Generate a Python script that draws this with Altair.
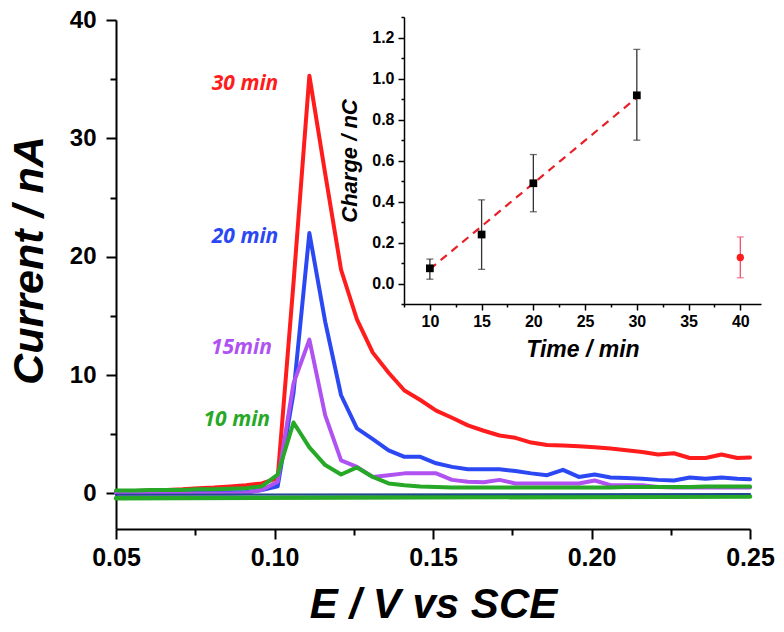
import altair as alt
import pandas as pd

# ---------------- main chart data (E / V vs SCE, current / nA) ----------------
E = [0.050, 0.056, 0.061, 0.066, 0.071, 0.076, 0.081, 0.086, 0.091, 0.096,
     0.101, 0.106, 0.111, 0.116, 0.121, 0.126, 0.131, 0.136, 0.141, 0.146,
     0.151, 0.156, 0.161, 0.166, 0.171, 0.176, 0.181, 0.186, 0.191, 0.196,
     0.201, 0.206, 0.211, 0.216, 0.221, 0.226, 0.231, 0.236, 0.241, 0.246,
     0.250]

I_30 = [0.15, 0.20, 0.25, 0.30, 0.35, 0.45, 0.50, 0.60, 0.70, 0.85,
        1.30, 17.8, 35.3, 27.0, 18.9, 14.7, 11.9, 10.2, 8.7, 7.9,
        7.0, 6.4, 5.75, 5.3, 4.9, 4.7, 4.3, 4.1, 4.05, 4.0,
        3.9, 3.8, 3.65, 3.5, 3.3, 3.4, 3.0, 3.0, 3.3, 3.0,
        3.05]

I_20 = [0.10, 0.10, 0.10, 0.10, 0.10, 0.10, 0.10, 0.10, 0.10, 0.30,
        0.60, 8.5, 22.0, 14.5, 8.3, 5.5, 4.6, 3.65, 3.1, 3.1,
        2.55, 2.25, 2.05, 2.05, 2.05, 1.9, 1.7, 1.55, 2.0, 1.4,
        1.6, 1.35, 1.3, 1.25, 1.15, 1.1, 1.35, 1.25, 1.35, 1.25,
        1.2]

I_15 = [0.00, 0.00, 0.00, 0.00, 0.00, 0.00, 0.00, 0.00, 0.05, 0.30,
        1.00, 9.3, 13.0, 6.6, 2.8, 2.25, 1.4, 1.55, 1.7, 1.7,
        1.7, 1.15, 1.0, 0.95, 1.15, 0.85, 0.85, 0.85, 0.85, 0.85,
        1.1, 0.7, 0.7, 0.7, 0.55, 0.5, 0.5, 0.5, 0.5, 0.5,
        0.5]

I_10 = [0.25, 0.25, 0.30, 0.30, 0.30, 0.35, 0.35, 0.40, 0.45, 0.60,
        1.60, 6.0, 3.9, 2.4, 1.6, 2.2, 1.4, 0.85, 0.7, 0.6,
        0.55, 0.5, 0.5, 0.5, 0.5, 0.5, 0.5, 0.5, 0.5, 0.5,
        0.5, 0.5, 0.55, 0.55, 0.55, 0.55, 0.55, 0.6, 0.6, 0.6,
        0.6]

E_base = [0.050, 0.250]
I_10_return = [-0.40, -0.25]
I_blank = [-0.10, -0.05]

curve_labels = ["30 min", "20 min", "15min", "10 min"]
label_E = [0.1012, 0.1012, 0.0992, 0.0986]
label_I = [34.6, 21.7, 12.3, 6.2]

RED, BLUE, PURPLE, GREEN, NAVY = "#ff1c1c", "#2b48f2", "#b052f2", "#27a827", "#1f4b8e"
label_colors = [RED, BLUE, PURPLE, GREEN]

# ---------------- inset data (charge vs time) ----------------
t_min = [10, 15, 20, 30]
charge = [0.074, 0.239, 0.489, 0.918]
charge_lo = [0.021, 0.069, 0.350, 0.699]
charge_hi = [0.119, 0.408, 0.629, 1.142]

t_out = [40]
charge_out = [0.127]
charge_out_lo = [0.028]
charge_out_hi = [0.227]

fit_t = [10, 30]
fit_q = [0.070, 0.907]

# ---------------- tick values ----------------
XV = [0.05, 0.075, 0.10, 0.125, 0.15, 0.175, 0.20, 0.225, 0.25]
YV = [0, 5, 10, 15, 20, 25, 30, 35, 40]
IXV = [7.5, 10, 12.5, 15, 17.5, 20, 22.5, 25, 27.5, 30, 32.5, 35, 37.5, 40]
IYV = [-0.1, 0.0, 0.1, 0.2, 0.3, 0.4, 0.5, 0.6, 0.7, 0.8, 0.9, 1.0, 1.1, 1.2, 1.3]

AX_FONT = "Liberation Sans"

MAJ_X = "abs(datum.value*20 - round(datum.value*20)) < 0.001"
MAJ_Y = "datum.value % 10 === 0"
MAJ_IX = "datum.value % 5 === 0"
MAJ_IY = "abs(datum.value*5 - round(datum.value*5)) < 0.001"

# layout (plot-area pixels)
W, H = 634, 509
INSET_X = [288, 645]      # inset plot area, left -> right
INSET_Y = [284, -3]       # inset plot area, bottom -> top


def axis(values, major, fmt_expr, title_size, label_size, major_len, minor_len,
         width, lab_pad, title_pad, orient, offset=0, **extra):
    return alt.Axis(
        orient=orient, offset=offset,
        values=values,
        labelExpr=f"({major}) ? {fmt_expr} : ''",
        tickSize={"condition": {"test": major, "value": major_len}, "value": minor_len},
        tickColor="black", tickWidth=width,
        domainColor="black", domainWidth=width,
        grid=False,
        labelFont=AX_FONT, labelFontWeight="bold", labelFontSize=label_size,
        labelColor="black", labelPadding=lab_pad, labelOverlap=False, labelFlush=False,
        titleFont=AX_FONT, titleFontWeight="bold", titleFontStyle="italic",
        titleFontSize=title_size, titleColor="black", titlePadding=title_pad,
        **extra,
    )


x_axis = axis(XV, MAJ_X, "format(datum.value, '.2f')", 42, 25, 10, 6, 2, 6, 14, "bottom")
y_axis = axis(YV, MAJ_Y, "format(datum.value, 'd')", 43, 24, 10, 6, 2, 10, 18, "left",
              titleY=240)
xs = alt.Scale(domain=[0.05, 0.25], nice=False, zero=False)
ys = alt.Scale(domain=[-3, 40], nice=False, zero=False)

X_MAIN = alt.X("E:Q", scale=xs, axis=x_axis, title="E / V vs SCE")
Y_MAIN = alt.Y("I:Q", scale=ys, axis=y_axis, title="Current / nA")


def curve(es, vals, color, width):
    df = pd.DataFrame({"E": es, "I": vals})
    return alt.Chart(df).mark_line(color=color, strokeWidth=width,
                                   strokeCap="round", strokeJoin="round").encode(
        x=X_MAIN, y=Y_MAIN)


lbl_df = pd.DataFrame({"E": label_E, "I": label_I, "label": curve_labels})
labels = alt.Chart(lbl_df).mark_text(
    align="right", baseline="middle", font="Open Sans", fontStyle="italic",
    fontWeight="bold", fontSize=21
).encode(
    x=X_MAIN, y=Y_MAIN, text="label:N",
    color=alt.Color("label:N", scale=alt.Scale(domain=curve_labels, range=label_colors),
                    legend=None),
)

main = alt.layer(
    curve(E, I_30, RED, 4),
    curve(E, I_20, BLUE, 4),
    curve(E, I_15, PURPLE, 4),
    curve(E, I_10, GREEN, 4),
    curve(E_base, I_10_return, GREEN, 4.5),
    curve(E_base, I_blank, NAVY, 2),
    labels,
)

# ---------------- inset ----------------
ix_axis = axis(IXV, MAJ_IX, "format(datum.value, 'd')", 23, 16, 6, 3, 1.5, 3, 9,
               "bottom", INSET_Y[0] - H)
iy_axis = axis(IYV, MAJ_IY, "format(datum.value, '.1f')", 22, 16, 6, 3, 1.5, 4, 10,
               "left", -INSET_X[0])
ixs = alt.Scale(domain=[7.5, 42], nice=False, zero=False, range=INSET_X)
iys = alt.Scale(domain=[-0.1, 1.3], nice=False, zero=False, range=INSET_Y)


def IX(field):
    return alt.X(f"{field}:Q", scale=ixs, axis=ix_axis, title="Time / min")


def IY(field):
    return alt.Y(f"{field}:Q", scale=iys, axis=iy_axis, title="Charge / nC")


q_df = pd.DataFrame({"t": t_min, "q": charge, "lo": charge_lo, "hi": charge_hi})
o_df = pd.DataFrame({"t": t_out, "q": charge_out, "lo": charge_out_lo, "hi": charge_out_hi})
f_df = pd.DataFrame({"t": fit_t, "q": fit_q})


def errbars(df, color):
    base = alt.Chart(df)
    rule = base.mark_rule(color=color, strokeWidth=1.3).encode(x=IX("t"), y=IY("lo"), y2="hi")
    cap_lo = base.mark_tick(color=color, orient="horizontal", size=7, thickness=1.3).encode(
        x=IX("t"), y=IY("lo"))
    cap_hi = base.mark_tick(color=color, orient="horizontal", size=7, thickness=1.3).encode(
        x=IX("t"), y=IY("hi"))
    return [rule, cap_lo, cap_hi]


fit = alt.Chart(f_df).mark_line(color="#e8202a", strokeWidth=2.2, strokeDash=[8, 6]).encode(
    x=IX("t"), y=IY("q"))
sq = alt.Chart(q_df).mark_point(shape="square", filled=True, size=60, color="black",
                                opacity=1).encode(x=IX("t"), y=IY("q"))
dot = alt.Chart(o_df).mark_point(shape="circle", filled=True, size=55, color="#ff1c1c",
                                 opacity=1).encode(x=IX("t"), y=IY("q"))

inset = alt.layer(
    *errbars(q_df, "#333333"),
    *errbars(o_df, "#f0506a"),
    fit, sq, dot,
)

chart = alt.layer(main, inset).resolve_scale(
    x="independent", y="independent", color="independent"
).properties(
    width=W, height=H,
    padding={"left": 0, "top": 0, "right": 0, "bottom": 0},
    background="white",
).configure_view(stroke=None)

chart.save("out.html", embed_options={"renderer": "svg", "actions": False})
